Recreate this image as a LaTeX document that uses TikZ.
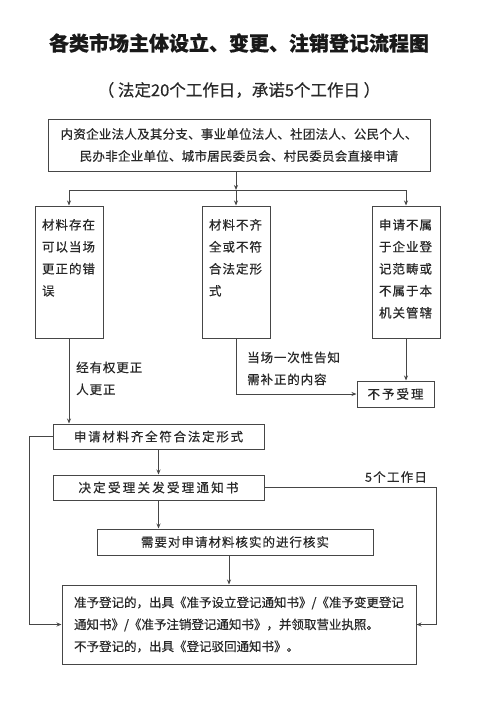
\documentclass[tikz,border=0pt]{standalone}
\usepackage{fontspec}
\newfontfamily\cjk{Noto Sans CJK SC}[FakeBold=0.5]
\usetikzlibrary{arrows.meta,positioning}
\definecolor{inkgray}{RGB}{40,40,40}
\definecolor{linegray}{RGB}{70,70,70}

\begin{document}
\begin{tikzpicture}[x=1pt,y=-1pt,
  every node/.style={font=\cjk\fontsize{12.5}{22}\selectfont, text=inkgray},
  spaced/.style={font=\cjk\fontsize{12.5}{22}\selectfont\addfontfeature{LetterSpace=#1}},
  box/.style={draw=linegray, line width=1pt, inner sep=0pt},
  colbox/.style={box, spaced=8, minimum width=68pt, minimum height=132pt},
  widebox/.style={box, spaced=14, minimum width=211pt, minimum height=25pt},
  note/.style={anchor=north west, align=left, inner sep=0pt, spaced=7},
  arr/.style={draw=linegray, line width=1pt, -{Stealth[length=5pt,width=4pt]}}]
  \useasboundingbox (0,0) rectangle (478,701);
  \node[font=\cjk\bfseries\fontsize{20}{24}\selectfont, text=black!90] (title) at (239,43) {各类市场主体设立、变更、注销登记流程图};
  \node[font=\cjk\fontsize{16.5}{18}\selectfont] (subtitle) at (239,90) {（ 法定20个工作日，承诺5个工作日 ）};
  \node[box, spaced=2, minimum width=382pt, minimum height=52pt, align=center] (apply) at (239,145) {内资企业法人及其分支、事业单位法人、社团法人、公民个人、\\民办非企业单位、城市居民委员会、村民委员会直接申请};
  \coordinate (fork) at (236,190);
  \node[colbox] (err) at (69,272) {\parbox[t][106pt][t]{54pt}{材料存在\\可以当场\\更正的错\\误}};
  \node[colbox] (inc) at (236,272) {\parbox[t][106pt][t]{54pt}{材料不齐\\全或不符\\合法定形\\式}};
  \node[colbox] (ood) at (406,272) {\parbox[t][106pt][t]{54pt}{申请不属\\于企业登\\记范畴或\\不属于本\\机关管辖}};
  \node[box, spaced=16, minimum width=77pt, minimum height=26pt] (reject) at (395.5,394) {不予受理};
  \node[widebox] (full) at (158.5,436.5) {申请材料齐全符合法定形式};
  \node[widebox, spaced=18] (accept) at (158.5,487.5) {决定受理关发受理通知书};
  \node[box, spaced=8, minimum width=276pt, minimum height=26pt] (verify) at (235,542) {需要对申请材料核实的进行核实};
  \node[box, minimum width=354pt, minimum height=79pt, align=left] (result) at (239,624.5) {准予登记的，出具《准予设立登记通知书》/《准予变更登记\\通知书》/《准予注销登记通知书》，并领取营业执照。\\不予登记的，出具《登记驳回通知书》。};
  \node[note] (fixnote) at (76,361.5) {经有权更正\\人更正};
  \node[note] (tellnote) at (247,351.5) {当场一次性告知\\需补正的内容};
  \node[spaced=10] (days) at (396,477) {5个工作日};
  \draw[arr] (apply.south -| fork) -- (fork);
  \draw[arr] (fork) -| (err.north);
  \draw[arr] (fork) -- (inc.north);
  \draw[arr] (fork) -| (ood.north);
  \draw[arr] (err.south) -- (err.south |- full.north);
  \draw[arr] (inc.south) |- (reject.west);
  \draw[arr] (ood.south) -- (ood.south |- reject.north);
  \draw[arr] (full) -- (accept);
  \draw[arr] (accept.south) -- (accept.south |- verify.north);
  \draw[arr] (verify.south -| 229,0) -- (result.north -| 229,0);
  \draw[arr] (full.west) -- ++(-23,0) |- (result.west);
  \draw[arr] (accept.east) -- ++(172,0) |- (result.east);
\end{tikzpicture}
\end{document}
